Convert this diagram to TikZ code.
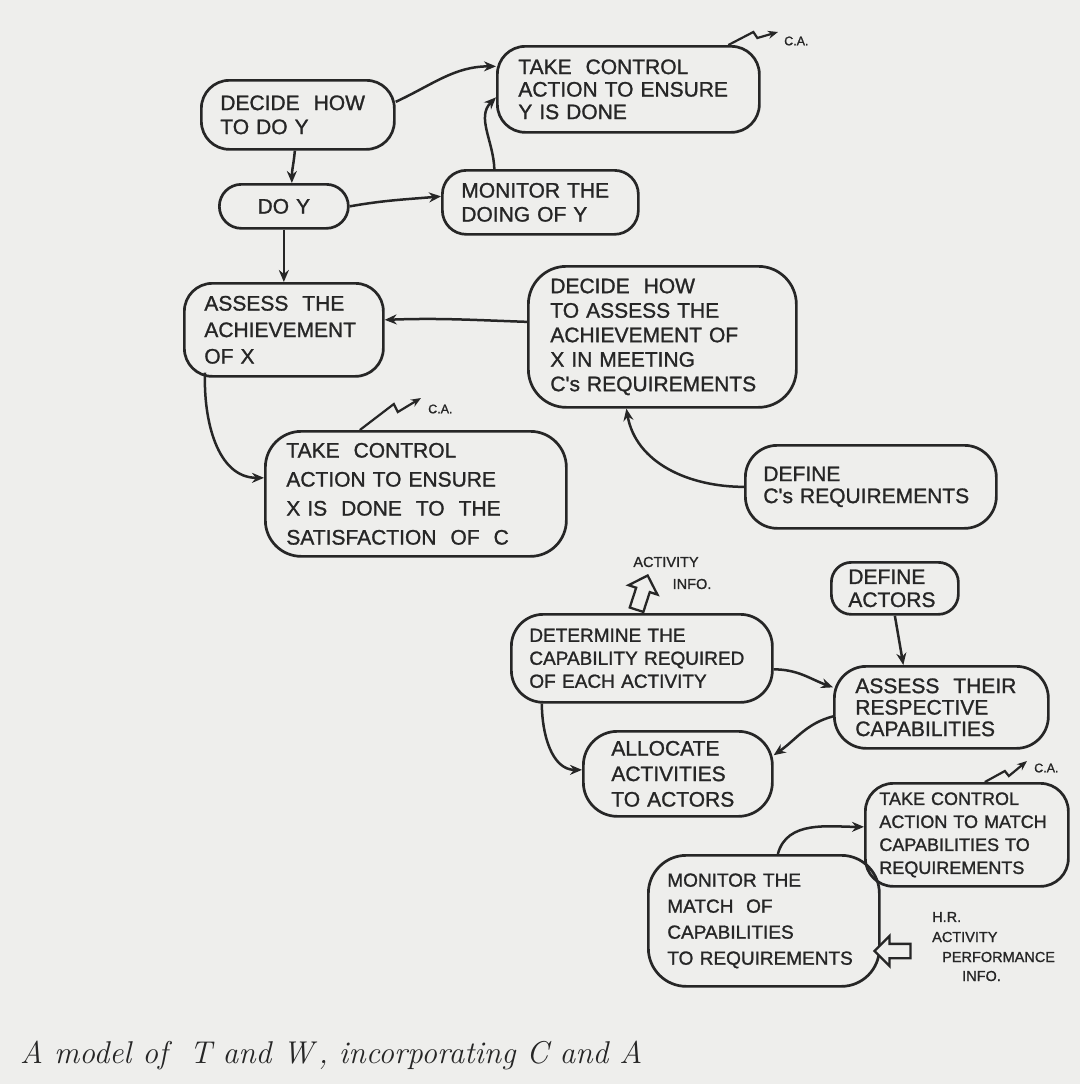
\documentclass[tikz,border=0pt]{standalone}
\usepackage{fontspec}
\newfontfamily\hand[FakeBold=1.2]{Liberation Sans}
\usetikzlibrary{arrows.meta,shapes.arrows,calc}
\definecolor{paper}{RGB}{238,238,236}
\definecolor{ink}{RGB}{38,38,38}
\tikzset{
  blob/.style={draw=ink, line width=2.7pt, rounded corners=28pt, anchor=north west,
    font=\hand\fontsize{21}{24}\selectfont, text=ink, align=left, inner ysep=0pt},
  conn/.style={draw=ink, line width=2.5pt, -{Stealth[length=12pt,width=10pt]}},
  ca/.style={draw=ink, line width=2.2pt, -{Stealth[length=10pt,width=8pt]}},
  lbl/.style={font=\hand\fontsize{12.5}{14}\selectfont, text=ink, inner sep=0pt},
  hollow/.style={single arrow, draw=ink, line width=2.3pt, fill=paper, minimum height=36pt,
    inner xsep=0pt, inner ysep=6pt, single arrow head extend=8pt, single arrow head indent=0pt}
}
\begin{document}
\begin{tikzpicture}[x=1pt,y=-1pt]
\fill[paper] (0,0) rectangle (1080,1084);
\useasboundingbox (0,0) rectangle (1080,1084);

% nodes
\node[blob, minimum width=193pt, minimum height=69pt, text width=155pt, inner xsep=19pt] (A) at (200,79) {DECIDE \ HOW\\TO DO Y};
\node[blob, minimum width=262pt, minimum height=86pt, text width=220pt, inner xsep=21pt, font=\hand\fontsize{21}{22.5}\selectfont] (B) at (496,45) {TAKE \ CONTROL\\ACTION TO ENSURE\\Y IS DONE};
\node[blob, minimum width=129pt, minimum height=44pt, text width=89pt, inner xsep=20pt, align=center, rounded corners=22pt] (C) at (218,183) {DO Y};
\node[blob, minimum width=196pt, minimum height=64pt, text width=158pt, inner xsep=19pt, rounded corners=24pt] (D) at (441,169) {MONITOR THE\\DOING OF Y};
\node[blob, minimum width=199pt, minimum height=93pt, text width=159pt, inner xsep=20pt, font=\hand\fontsize{21}{26.5}\selectfont] (E) at (183,282) {ASSESS \ THE\\ACHIEVEMENT\\OF X};
\node[blob, minimum width=268pt, minimum height=141pt, text width=224pt, inner xsep=22pt, font=\hand\fontsize{21}{24.5}\selectfont, rounded corners=38pt] (F) at (527,265) {DECIDE \ HOW\\TO ASSESS THE\\ACHIEVEMENT OF\\X IN MEETING\\C's REQUIREMENTS};
\node[blob, minimum width=301pt, minimum height=125pt, text width=259pt, inner xsep=21pt, font=\hand\fontsize{21}{29}\selectfont, rounded corners=36pt] (G) at (264,430) {TAKE \ CONTROL\\ACTION TO ENSURE\\X IS \ DONE \ TO \ THE\\SATISFACTION \ OF \ C};
\node[blob, minimum width=251pt, minimum height=83pt, text width=215pt, inner xsep=18pt, font=\hand\fontsize{21}{22}\selectfont, rounded corners=32pt] (H) at (744,444) {DEFINE\\C's REQUIREMENTS};
\node[blob, minimum width=261pt, minimum height=88pt, text width=225pt, inner xsep=18pt, font=\hand\fontsize{19}{23}\selectfont, rounded corners=32pt] (I) at (510,613) {DETERMINE THE\\CAPABILITY REQUIRED\\OF EACH ACTIVITY};
\node[blob, minimum width=127pt, minimum height=52pt, text width=93pt, inner xsep=17pt, font=\hand\fontsize{21}{23}\selectfont, rounded corners=20pt] (J) at (830,561) {DEFINE\\ACTORS};
\node[blob, minimum width=214pt, minimum height=82pt, text width=172pt, inner xsep=21pt, font=\hand\fontsize{21}{21.5}\selectfont, rounded corners=32pt] (K) at (833,665) {ASSESS \ THEIR\\RESPECTIVE\\CAPABILITIES};
\node[blob, minimum width=189pt, minimum height=85pt, text width=133pt, inner xsep=28pt, font=\hand\fontsize{21}{25.5}\selectfont, rounded corners=34pt] (L) at (582,730) {ALLOCATE\\ACTIVITIES\\TO ACTORS};
\node[blob, minimum width=203pt, minimum height=103pt, text width=175pt, inner xsep=14pt, font=\hand\fontsize{18}{23}\selectfont, rounded corners=28pt] (M) at (864,782) {TAKE CONTROL\\ACTION TO MATCH\\CAPABILITIES TO\\REQUIREMENTS};
\node[blob, minimum width=231pt, minimum height=131pt, text width=193pt, inner xsep=19pt, font=\hand\fontsize{19}{26}\selectfont, rounded corners=38pt] (N) at (647,854) {MONITOR THE\\MATCH \ OF\\CAPABILITIES\\TO REQUIREMENTS};

% connectors
\draw[conn] ([yshift=13pt]A.east) to[out=25,in=180] ([yshift=23pt]B.west);
\draw[conn] ([xshift=-3pt]A.south) to[out=-95,in=90] ([xshift=8pt]C.north);
\draw[conn] (C.east) to[out=10,in=185] ([yshift=6pt]D.west);
\draw[conn] ([xshift=-46pt]D.north) to[out=92,in=225] ([yshift=-8pt]B.west);
\draw[conn] (C.south) -- (E.north);
\draw[conn] ([yshift=15pt]F.west) to[out=178,in=2] ([yshift=10pt]E.east);
\draw[conn] ([xshift=22pt,yshift=5pt]E.south west) to[out=-92,in=180] ([yshift=16pt]G.west);
\draw[conn] (H.west) to[out=180,in=-80] ([xshift=-36pt]F.south);
\draw[conn] ([yshift=-11pt]I.east) to[out=0,in=160] ([yshift=20pt]K.west);
\draw[conn] (J.south) -- ([xshift=-38pt]K.north);
\draw[conn] ([yshift=-9pt]K.west) to[out=195,in=35] (L.11);
\draw[conn] ([xshift=-100pt]I.south) to[out=-90,in=180] ([yshift=4pt]L.west);
\draw[conn] ([xshift=14pt]N.north) to[out=75,in=180] ([yshift=8pt]M.west);

% C.A. control actions
\coordinate (caB) at (778,32);
\coordinate (caG) at (421,398);
\coordinate (caM) at (1027,761);
\draw[ca] ([xshift=100pt]B.north) -- ++(25,-13) -- ++(4,6) -- (caB);
\draw[ca] ([xshift=-56pt]G.north) -- ++(34,-26) -- ++(4,8) -- (caG);
\draw[ca] ([xshift=18pt]M.north) -- ++(20,-11) -- ++(4,5) -- (caM);
\node[lbl, anchor=west] (caBl) at (784,41) {C.A.};
\node[lbl, anchor=west] (caGl) at (428,409) {C.A.};
\node[lbl, anchor=west] (caMl) at (1034,768) {C.A.};

% information inputs
\node[hollow, rotate=72] (ai) at (641,596) {};
\node[lbl, font=\hand\fontsize{14.5}{16}\selectfont] (ait) at (666,562) {ACTIVITY};
\node[lbl, font=\hand\fontsize{14.5}{16}\selectfont] (aii) at (692,584) {INFO.};
\node[hollow, rotate=180] (hr) at (896,951) {};
\node[lbl, font=\hand\fontsize{14.5}{16}\selectfont, anchor=west] (hr1) at (932,917) {H.R.};
\node[lbl, font=\hand\fontsize{14.5}{16}\selectfont, anchor=west] (hr2) at (932,937) {ACTIVITY};
\node[lbl, font=\hand\fontsize{14.5}{16}\selectfont, anchor=west] (hr3) at (942,957) {PERFORMANCE};
\node[lbl, font=\hand\fontsize{14.5}{16}\selectfont, anchor=west] (hr4) at (962,976) {INFO.};

% caption
\node[anchor=base west, inner sep=0pt, text=ink, font=\itshape\fontsize{31.5}{34}\selectfont] (cap) at (20,1063) {A model of \ T and W\,, incorporating C and A};
\end{tikzpicture}
\end{document}
